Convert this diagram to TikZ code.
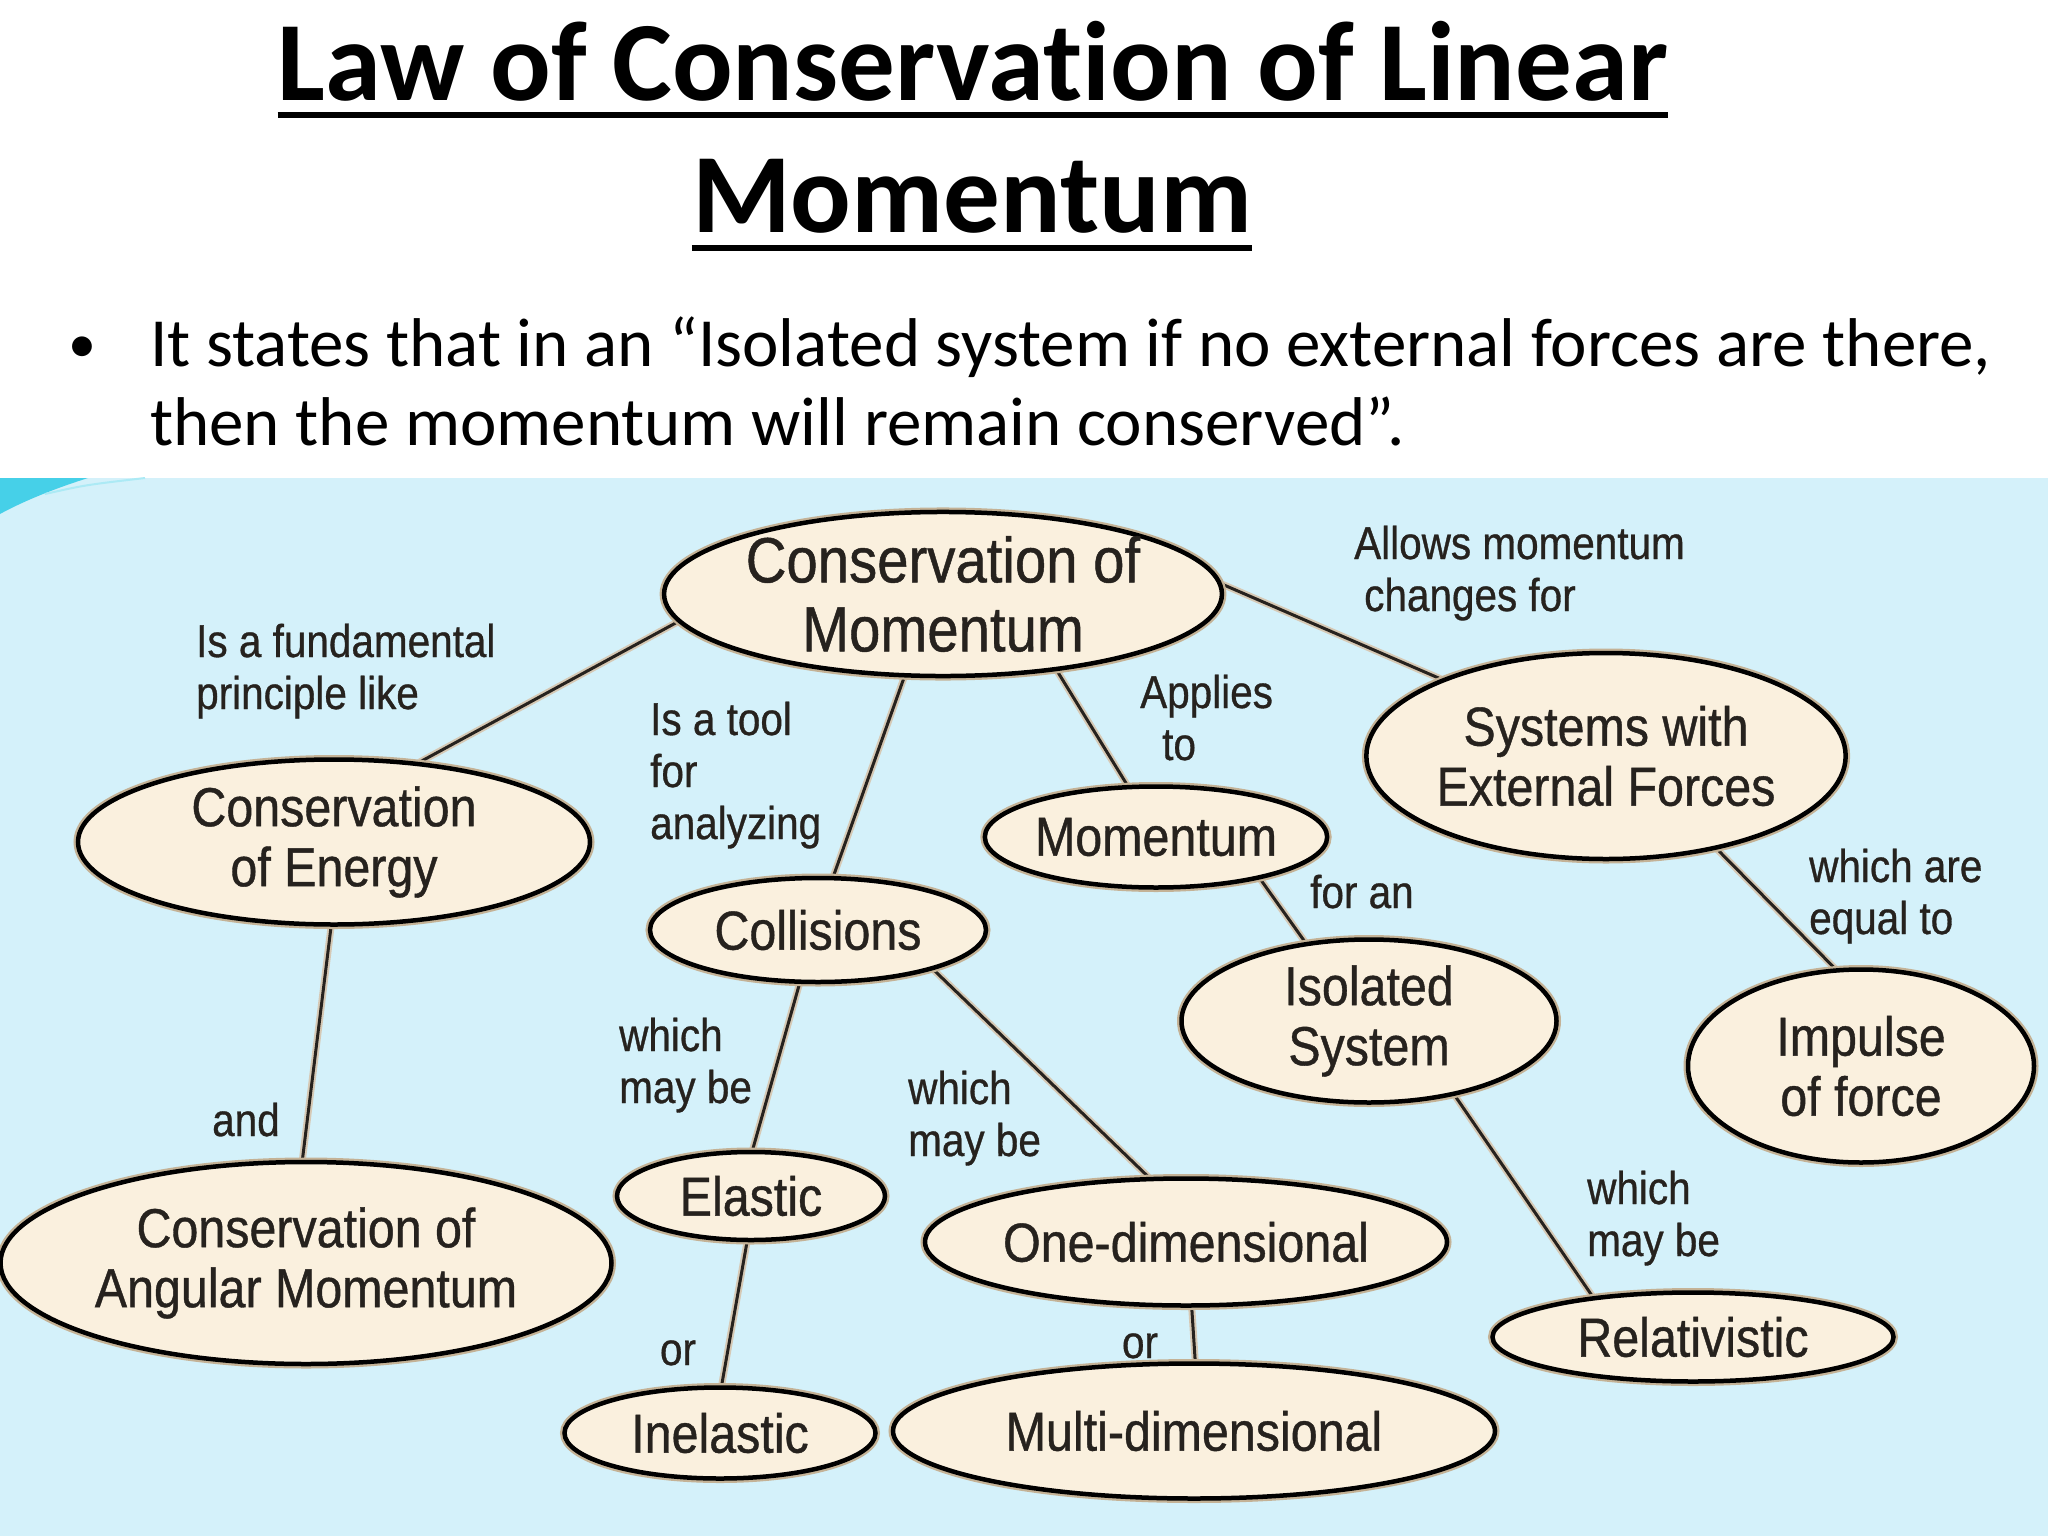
\documentclass[tikz,border=0pt]{standalone}
\usepackage{fontspec}
\setmainfont{Carlito}[Ligatures=NoCommon]
\newfontfamily\mapfont[FakeStretch=0.88, FakeBold=0.7]{Liberation Sans}
\usetikzlibrary{shapes.geometric,backgrounds}

\definecolor{mapbg}{RGB}{212,241,250}
\definecolor{cream}{RGB}{250,240,222}
\definecolor{halo}{RGB}{196,178,150}
\definecolor{ink}{RGB}{38,34,30}
\definecolor{swoosh}{RGB}{70,208,232}

\tikzset{
	concept/.style={ellipse, draw=black, line width=4.5pt, fill=cream, inner sep=0pt, align=center, text=ink,
		font=\mapfont\fontsize{55}{60}\selectfont, preaction={draw=halo, line width=9pt}},
	link/.style={draw=ink, line width=3pt, preaction={draw=halo!70, line width=7pt}},
	lbl/.style={inner sep=0pt, align=left, text=ink, font=\mapfont\fontsize{46}{52}\selectfont},
}

\begin{document}
\begin{tikzpicture}[x=1pt, y=-1pt]
	\useasboundingbox (0,0) rectangle (2048,1536);

	% title and statement
	\node[inner sep=0pt, anchor=base, font=\bfseries\fontsize{113}{120}\selectfont] (ttl1) at (973,101) {Law of Conservation of Linear};
	\node[inner sep=0pt, anchor=base, font=\bfseries\fontsize{113}{120}\selectfont] (ttl2) at (972,232) {Momentum};
	\draw[line width=6pt] ([yshift=-14pt]ttl1.base west) -- ([yshift=-14pt]ttl1.base east);
	\draw[line width=6pt] ([yshift=-16pt]ttl2.base west) -- ([yshift=-16pt]ttl2.base east);
	\node[inner sep=0pt, anchor=base, font=\fontsize{56}{79}\selectfont] (dot) at (82,362) {•};
	\node[inner sep=0pt, anchor=base west, align=left, font=\fontsize{69}{79}\selectfont] (stmt) at (150,445)
		{It states that in an “Isolated system if no external forces are there,\\then the momentum will remain conserved”.};

	% concept map
	\node[concept, minimum width=551, minimum height=162, font=\mapfont\fontsize{64}{69}\selectfont] (com) at (943,594) {Conservation of\\Momentum};
	\node[concept, minimum width=512, minimum height=165] (energy) at (334,842) {Conservation\\of Energy};
	\node[concept, minimum width=470, minimum height=206] (sys) at (1606,756) {Systems with\\External Forces};
	\node[concept, minimum width=332, minimum height=101] (mom) at (1156,837) {Momentum};
	\node[concept, minimum width=336, minimum height=104] (coll) at (818,930) {Collisions};
	\node[concept, minimum width=375, minimum height=163] (iso) at (1369,1021) {Isolated\\System};
	\node[concept, minimum width=346, minimum height=193] (imp) at (1861,1066) {Impulse\\of force};
	\node[concept, minimum width=611, minimum height=202] (ang) at (306,1263) {Conservation of\\Angular Momentum};
	\node[concept, minimum width=268, minimum height=88] (ela) at (751,1196) {Elastic};
	\node[concept, minimum width=522, minimum height=127] (one) at (1186,1242) {One-dimensional};
	\node[concept, minimum width=401, minimum height=89] (rel) at (1693,1337) {Relativistic};
	\node[concept, minimum width=311, minimum height=91] (inel) at (720,1433) {Inelastic};
	\node[concept, minimum width=602, minimum height=135] (multi) at (1194,1431) {Multi-dimensional};

	\node[lbl, anchor=base west] (l1) at (196,709) {Is a fundamental\\principle like};
	\node[lbl, anchor=base west] (l2) at (650,839) {Is a tool\\for\\analyzing};
	\node[lbl, anchor=base west] (l3) at (1140,760) {Applies\\\hspace*{22pt}to};
	\node[lbl, anchor=base west] (l4) at (1354,611) {Allows momentum\\\hspace*{10pt}changes for};
	\node[lbl, anchor=base west] (l5) at (1310,908) {for an};
	\node[lbl, anchor=base west] (l6) at (1809,934) {which are\\equal to};
	\node[lbl, anchor=base west] (l7) at (619,1103) {which\\may be};
	\node[lbl, anchor=base west] (l8) at (908,1156) {which\\may be};
	\node[lbl, anchor=base west] (l9) at (212,1136) {and};
	\node[lbl, anchor=base] (l10) at (678,1365) {or};
	\node[lbl, anchor=base] (l11) at (1140,1358) {or};
	\node[lbl, anchor=base west] (l12) at (1587,1256) {which\\may be};

	\begin{pgfonlayer}{background}
		\fill[white] (0,0) rectangle (2048,478);
		\fill[mapbg] (0,478) rectangle (2048,1536);
		\fill[swoosh] (0,478) -- (88,478) .. controls (50,490) and (20,503) .. (0,514) -- cycle;
		\draw[swoosh!45, line width=2pt] (45,494) .. controls (85,485) .. (145,478);
		\path[every edge/.style=link]
			(com.186) edge (energy.43)
			(com.245) edge (coll.74)
			(com.326) edge (mom.119)
			(com.2) edge (sys.155)
			(energy.268) edge (ang.92)
			(mom.338) edge (iso.129)
			(sys.320) edge (imp.105)
			(coll.251) edge (ela.88)
			(coll.341) edge (one.120)
			(ela.265) edge (inel.88)
			(one.275) edge (multi.89)
			(iso.319) edge (rel.158);
	\end{pgfonlayer}
\end{tikzpicture}
\end{document}
